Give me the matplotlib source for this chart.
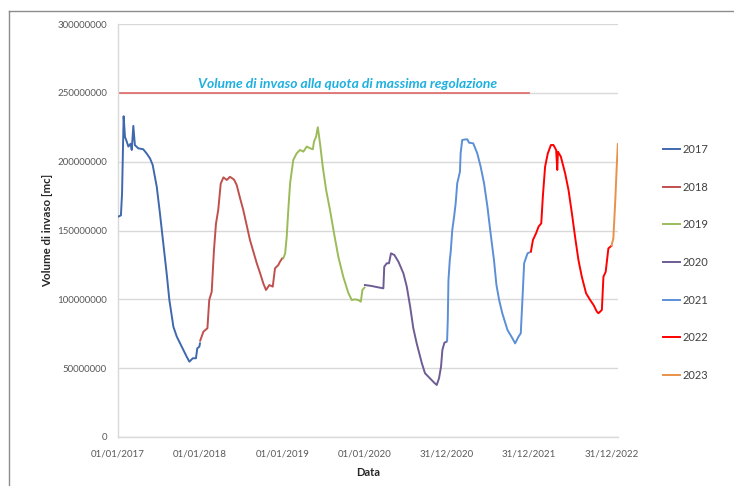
import matplotlib
matplotlib.use("Agg")
import matplotlib.pyplot as plt
from matplotlib.lines import Line2D
import numpy as np
import pandas as pd

plt.rcParams['font.family'] = ['Lato', 'DejaVu Sans']

# ---------------- data ----------------
d2017 = ['2017-01-01', '2017-01-14', '2017-01-19', '2017-01-26', '2017-02-01', '2017-02-09',
         '2017-02-16', '2017-02-26', '2017-03-03', '2017-03-10', '2017-03-17', '2017-04-01',
         '2017-04-23', '2017-05-08', '2017-05-23', '2017-06-04', '2017-06-22', '2017-07-06',
         '2017-07-21', '2017-08-05', '2017-08-17', '2017-09-04', '2017-09-19', '2017-10-11',
         '2017-11-02', '2017-11-14', '2017-11-29', '2017-12-13', '2017-12-19', '2017-12-28',
         '2017-12-31']
v2017 = [160.0, 161.0, 177.0, 233.0, 218.0, 214.5, 211.0, 213.0, 208.5, 226.0, 212.0, 209.7,
         209.0, 206.0, 202.4, 197.6, 181.8, 162.7, 140.7, 118.9, 99.5, 80.0, 72.9, 65.6,
         58.3, 54.7, 57.2, 57.2, 64.4, 65.6, 68.0]

d2018 = ['2018-01-01', '2018-01-15', '2018-02-02', '2018-02-10', '2018-02-21', '2018-03-03',
         '2018-03-12', '2018-03-22', '2018-04-02', '2018-04-14', '2018-04-29', '2018-05-13',
         '2018-05-31', '2018-06-12', '2018-06-27', '2018-07-11', '2018-07-26', '2018-08-10',
         '2018-08-25', '2018-09-09', '2018-09-24', '2018-10-08', '2018-10-20', '2018-11-04',
         '2018-11-19', '2018-11-29', '2018-12-14', '2018-12-21', '2018-12-31']
v2018 = [70.0, 76.5, 79.0, 99.5, 105.5, 135.8, 155.0, 165.0, 184.0, 188.6, 186.7, 189.0,
         187.0, 183.0, 173.4, 165.0, 154.0, 143.0, 134.6, 126.2, 118.9, 111.6, 106.8, 110.4,
         109.2, 122.5, 125.0, 127.3, 129.8]

d2019 = ['2019-01-05', '2019-01-13', '2019-01-20', '2019-01-27', '2019-02-04', '2019-02-18',
         '2019-03-05', '2019-03-20', '2019-04-04', '2019-04-19', '2019-05-04', '2019-05-16',
         '2019-05-21', '2019-05-30', '2019-06-07', '2019-06-17', '2019-06-29', '2019-07-14',
         '2019-07-31', '2019-08-18', '2019-09-06', '2019-09-28', '2019-10-21', '2019-11-05',
         '2019-11-19', '2019-12-04', '2019-12-15', '2019-12-22', '2019-12-31']
v2019 = [129.8, 133.4, 145.5, 165.0, 184.3, 201.2, 206.0, 208.5, 207.3, 211.0, 209.7, 209.0,
         214.5, 218.0, 225.0, 213.0, 196.3, 179.4, 165.0, 148.0, 131.0, 116.4, 104.4, 99.5,
         100.0, 99.5, 98.3, 106.8, 108.5]

d2020 = ['2020-01-02', '2020-02-01', '2020-03-01', '2020-03-24', '2020-03-28', '2020-04-08',
         '2020-04-18', '2020-04-27', '2020-05-12', '2020-05-30', '2020-06-21', '2020-07-06',
         '2020-07-21', '2020-08-04', '2020-08-19', '2020-09-11', '2020-09-25', '2020-10-17',
         '2020-11-05', '2020-11-16', '2020-11-26', '2020-12-05', '2020-12-11', '2020-12-20',
         '2020-12-29']
v2020 = [110.4, 109.7, 108.7, 108.0, 123.7, 126.2, 126.2, 133.4, 132.2, 127.3, 118.9, 109.2,
         94.7, 79.0, 68.0, 53.5, 46.3, 42.6, 39.4, 37.8, 42.6, 51.0, 63.2, 68.5, 69.2]

d2021 = ['2021-01-01', '2021-01-04', '2021-01-07', '2021-01-13', '2021-01-17', '2021-01-24',
         '2021-02-01', '2021-02-08', '2021-02-15', '2021-02-27', '2021-03-02', '2021-03-09',
         '2021-03-24', '2021-04-01', '2021-04-08', '2021-04-27', '2021-05-15', '2021-05-30',
         '2021-06-14', '2021-06-29', '2021-07-13', '2021-07-28', '2021-08-08', '2021-08-20',
         '2021-09-03', '2021-09-26', '2021-10-18', '2021-10-30', '2021-11-14', '2021-11-24',
         '2021-12-02', '2021-12-09', '2021-12-24', '2021-12-31']
v2021 = [70.0, 85.0, 114.0, 128.6, 134.6, 150.4, 160.0, 169.8, 184.3, 192.7, 206.0, 215.7,
         216.2, 216.2, 213.8, 213.3, 206.0, 196.3, 184.3, 167.3, 148.0, 128.6, 110.4, 99.5,
         89.9, 77.7, 71.7, 68.0, 72.9, 75.3, 101.9, 126.2, 133.4, 134.0]

d2022 = ['2022-01-08', '2022-01-17', '2022-01-31', '2022-02-11', '2022-02-23', '2022-03-02',
         '2022-03-12', '2022-03-24', '2022-04-07', '2022-04-18', '2022-04-30', '2022-05-05',
         '2022-05-08', '2022-05-21', '2022-06-09', '2022-06-24', '2022-07-09', '2022-07-23',
         '2022-08-07', '2022-08-22', '2022-09-10', '2022-09-28', '2022-10-13', '2022-10-28',
         '2022-11-04', '2022-11-19', '2022-11-26', '2022-12-06', '2022-12-18', '2022-12-31']
v2022 = [134.6, 143.1, 148.0, 152.8, 155.2, 174.6, 196.3, 206.0, 212.1, 212.1, 208.5, 194.0,
         207.3, 203.6, 191.5, 179.4, 162.5, 145.5, 128.6, 116.4, 104.4, 99.5, 95.9, 91.0,
         89.9, 92.3, 116.4, 120.0, 137.0, 138.8]

d2023 = ['2023-01-01', '2023-01-09', '2023-01-17', '2023-01-24', '2023-01-29']
v2023 = [139.0, 144.3, 169.8, 196.3, 212.8]

series_labels = ['2017', '2018', '2019', '2020', '2021', '2022', '2023']
series_dates = [d2017, d2018, d2019, d2020, d2021, d2022, d2023]
series_values = [v2017, v2018, v2019, v2020, v2021, v2022, v2023]  # millions of m3
series_colors = ['#3F68AE', '#C0504D', '#9BBB59', '#6E5C94', '#5B8FD6', '#FF0000', '#E8914A']

max_reg_volume = 250000000
max_reg_dates = ['2017-01-01', '2021-12-31']
max_reg_label = 'Volume di invaso alla quota di massima regolazione'

y_ticks = [0, 50000000, 100000000, 150000000, 200000000, 250000000, 300000000]
x_tick_dates = ['2017-01-01', '2018-01-01', '2019-01-01', '2020-01-01',
                '2020-12-31', '2021-12-31', '2022-12-31']
x_limits = ['2017-01-01', '2023-01-31']

# ---------------- figure ----------------
W, H = 734, 486
fig = plt.figure(figsize=(W / 100, H / 100), dpi=100)
ax = fig.add_axes([118 / W, 1 - 437 / H, (618.3 - 118) / W, (437 - 24) / H])

grid_c = '#D9D9D9'
for lab, dts, vals, col in zip(series_labels, series_dates, series_values, series_colors):
    ax.plot(pd.to_datetime(dts), np.array(vals) * 1e6, color=col, lw=1.4, label=lab,
            solid_joinstyle='round', zorder=3)

ax.plot(pd.to_datetime(max_reg_dates), [max_reg_volume] * 2, color='#E06666', lw=1.2, zorder=2)
ax.text(0.4587, 0.8547, max_reg_label, transform=ax.transAxes, ha='center', va='center',
        color='#1FB0E0', fontsize=10, fontweight='bold', fontstyle='italic')

ax.set_ylim(0, 300000000)
ax.set_xlim(pd.to_datetime(x_limits[0]), pd.to_datetime(x_limits[1]))
ax.set_yticks(y_ticks)
ax.set_yticklabels([str(t) for t in y_ticks])
xt = pd.to_datetime(x_tick_dates)
ax.set_xticks(xt)
ax.set_xticklabels([t.strftime('%d/%m/%Y') for t in xt])

ax.grid(axis='y', color=grid_c, lw=1.0, zorder=0)
ax.grid(axis='x', visible=False)
for s in ['top', 'right']:
    ax.spines[s].set_visible(False)
for s in ['left', 'bottom']:
    ax.spines[s].set_color(grid_c)
    ax.spines[s].set_linewidth(1.0)
ax.tick_params(axis='both', length=0, labelsize=7, labelcolor='#595959')
ax.tick_params(axis='y', pad=8)
ax.tick_params(axis='x', pad=9)

ax.set_ylabel('Volume di invaso [mc]', fontsize=8.3, fontweight='bold', color='#262626')
ax.set_xlabel('Data', fontsize=8, fontweight='bold', color='#262626')
ax.yaxis.set_label_coords((53 - 118) / (618.3 - 118), 0.5)
ax.xaxis.set_label_coords(0.5, -(467 - 437) / (437 - 24))

leg = fig.legend(loc='upper left', bbox_to_anchor=(663 / W, 1 - 144 / H), frameon=False,
                 fontsize=8, handlelength=1.55, handletextpad=0.2, labelspacing=2.4,
                 borderpad=0, borderaxespad=0)
for t in leg.get_texts():
    t.set_color('#404040')

# outer chart border (cropped at right and bottom)
fig.add_artist(Line2D([9 / W, 1], [1 - 11 / H, 1 - 11 / H], color='#8C8C8C', lw=1.0,
                      transform=fig.transFigure))
fig.add_artist(Line2D([9 / W, 9 / W], [1 - 11 / H, 0], color='#8C8C8C', lw=1.0,
                      transform=fig.transFigure))

fig.savefig('out.png', dpi=100)
